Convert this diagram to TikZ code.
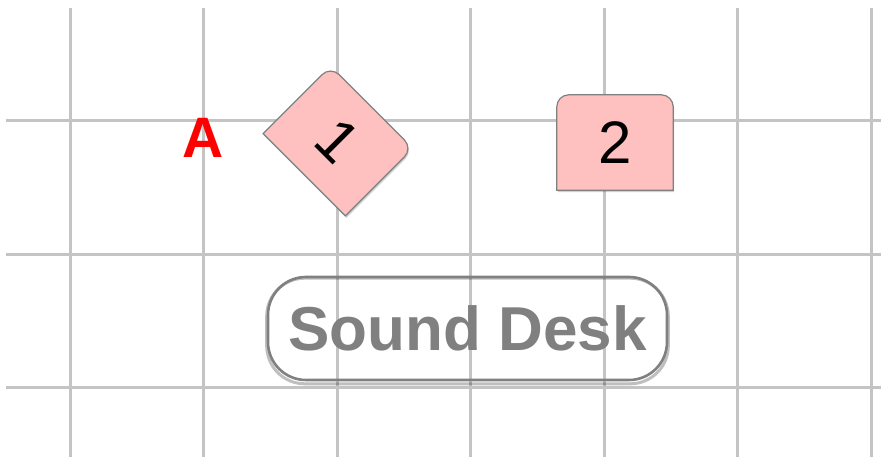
\documentclass[tikz,border=0pt]{standalone}
\usepackage{fontspec}
\setmainfont{Liberation Sans}
\definecolor{gridgray}{HTML}{C4C4C4}
\definecolor{boxpink}{HTML}{FFC0C0}
\definecolor{edgegray}{HTML}{808080}
\pgfdeclarelayer{gridlayer}
\pgfdeclarelayer{shapelayer}
\pgfsetlayers{gridlayer,shapelayer,main}
\begin{document}
\begin{tikzpicture}[x=1pt,y=1pt,
  gridline/.style={gridgray, line width=3pt},
  seatbox/.style={minimum width=116pt, minimum height=95pt, inner sep=0pt,
    font=\fontsize{60}{60}\selectfont},
  seatshape/.style={fill=boxpink, draw=edgegray, line width=1.2pt},
  seatshadow/.style={fill=black, opacity=0.18},
  desk/.style={draw=edgegray, line width=2.6pt, rounded corners=38pt,
    minimum width=399pt, minimum height=103pt, inner sep=0pt, text=edgegray,
    font=\bfseries\fontsize{62}{62}\selectfont},
  labelA/.style={text=red, font=\bfseries\fontsize{57}{57}\selectfont}]
\useasboundingbox (0,0) rectangle (881,457);
\begin{pgfonlayer}{gridlayer}
\foreach \x in {70,203.5,337,470.5,604,737.5,871} \draw[gridline] (\x,0) -- (\x,449);
\foreach \y in {336,202.5,69} \draw[gridline] (6,\y) -- (881,\y);
\end{pgfonlayer}
% seat 1 (rotated)
\node[seatbox, rotate=-45] (s1) at (338,316) {1};
% seat 2
\node[seatbox] (s2) at (615,314.5) {2};
% label A
\node[labelA] (lblA) at (203,319.5) {A};
% sound desk
\node[desk] (desk) at (467.5,128.5) {Sound Desk};
\begin{pgfonlayer}{shapelayer}
\foreach \n in {s1,s2}{
  \fill[seatshadow] ([shift={(1pt,-2pt)}]\n.south west) [rounded corners=12pt] -- ([shift={(1pt,-2pt)}]\n.north west) -- ([shift={(1pt,-2pt)}]\n.north east) [sharp corners] -- ([shift={(1pt,-2pt)}]\n.south east) -- cycle;
  \draw[seatshape] (\n.south west) [rounded corners=12pt] -- (\n.north west) -- (\n.north east) [sharp corners] -- (\n.south east) -- cycle;
}
\draw[black, opacity=0.25, line width=3pt, rounded corners=38pt]
  ([yshift=-2.5pt]desk.south west) rectangle ([yshift=-2.5pt]desk.north east);
\end{pgfonlayer}
\end{tikzpicture}
\end{document}
